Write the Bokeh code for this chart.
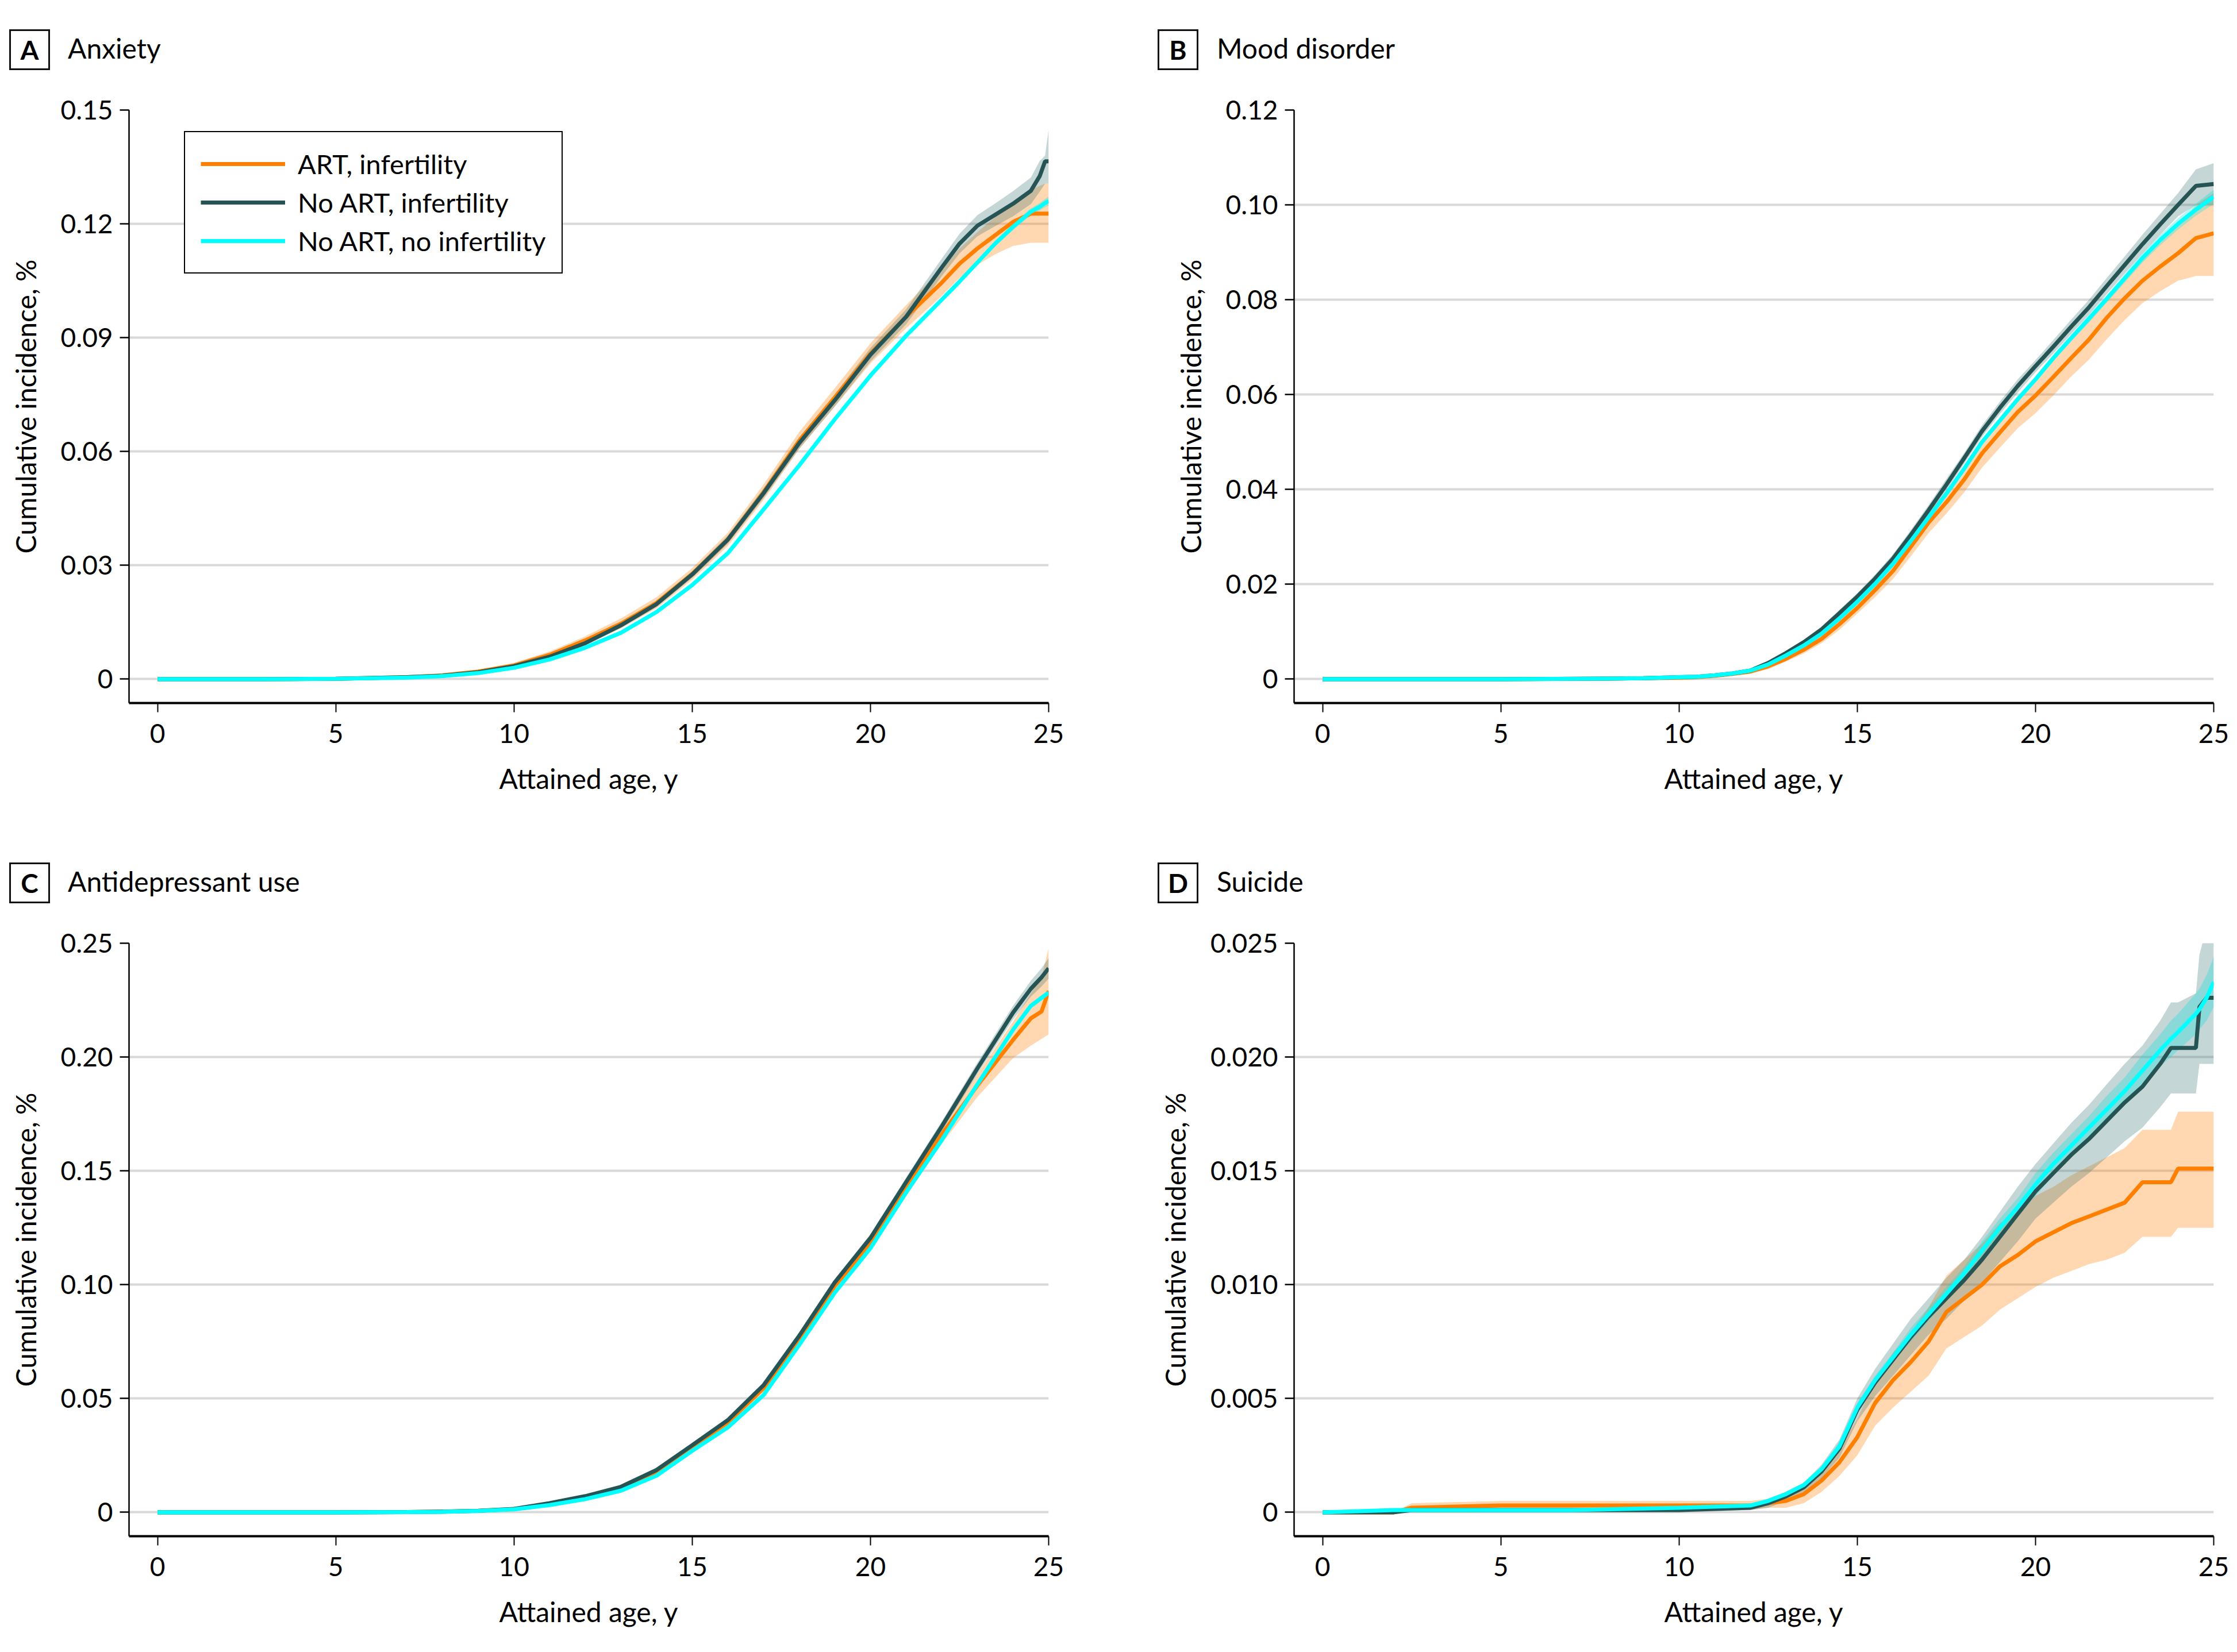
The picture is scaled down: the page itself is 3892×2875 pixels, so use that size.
from bokeh.plotting import figure
from bokeh.models import Range1d, FixedTicker, Legend, LegendItem, Div
from bokeh.layouts import column, row
from bokeh.embed import file_html
from bokeh.resources import INLINE

# ---------------- data ----------------
SERIES = ["ART, infertility", "No ART, infertility", "No ART, no infertility"]
X_TICKS = [0, 5, 10, 15, 20, 25]
PANEL_LETTERS = ["A", "B", "C", "D"]
PANEL_TITLES = ["Anxiety", "Mood disorder", "Antidepressant use", "Suicide"]

# Panel A: Anxiety
AGE_A = [0, 3, 5, 7, 8, 9, 10, 11, 12, 13, 14, 15, 16, 17, 18, 19, 20, 21, 22, 22.5, 23, 23.5, 24, 24.5, 24.75, 24.9, 25]
A_ART = [0, 0, 0.0001, 0.0005, 0.001, 0.002, 0.0036, 0.0064, 0.0102, 0.0146, 0.0201, 0.0277, 0.0368, 0.0492, 0.0628, 0.0742, 0.0858, 0.0955, 0.1045, 0.1095, 0.1135, 0.117, 0.1205, 0.1227, 0.1227, 0.1227, 0.1227]
A_ART_LO = [0, 0, 0.0001, 0.0003, 0.0007, 0.0015, 0.003, 0.0056, 0.0092, 0.0134, 0.0187, 0.0262, 0.0351, 0.0472, 0.0606, 0.0718, 0.0832, 0.0925, 0.101, 0.1057, 0.1092, 0.112, 0.1142, 0.115, 0.115, 0.115, 0.115]
A_ART_HI = [0, 0, 0.0002, 0.0008, 0.0013, 0.0025, 0.0043, 0.0073, 0.0113, 0.016, 0.0216, 0.0293, 0.0386, 0.0513, 0.0651, 0.0767, 0.0885, 0.0986, 0.1082, 0.1135, 0.1178, 0.1218, 0.1258, 0.129, 0.13, 0.1306, 0.1306]
A_INF = [0, 0, 0.0001, 0.0005, 0.0009, 0.0018, 0.0034, 0.0059, 0.0095, 0.0142, 0.0198, 0.0276, 0.0368, 0.049, 0.0622, 0.0735, 0.0855, 0.0955, 0.1085, 0.1148, 0.1195, 0.1224, 0.1253, 0.1287, 0.1326, 0.1365, 0.1365]
A_INF_LO = [0, 0, 0.0001, 0.0004, 0.0007, 0.0015, 0.003, 0.0054, 0.0089, 0.0135, 0.019, 0.0267, 0.0357, 0.0477, 0.0607, 0.0719, 0.0837, 0.0935, 0.1062, 0.1122, 0.1167, 0.1194, 0.122, 0.1252, 0.1285, 0.1306, 0.1306]
A_INF_HI = [0, 0, 0.0002, 0.0006, 0.0011, 0.0021, 0.0038, 0.0064, 0.0101, 0.0149, 0.0206, 0.0285, 0.0379, 0.0503, 0.0637, 0.0751, 0.0873, 0.0975, 0.1108, 0.1174, 0.1223, 0.1254, 0.1286, 0.1322, 0.1366, 0.138, 0.145]
A_NOINF = [0, 0, 0.0001, 0.0004, 0.0008, 0.0016, 0.003, 0.0052, 0.0083, 0.0122, 0.0177, 0.0248, 0.0332, 0.0447, 0.0563, 0.0685, 0.08, 0.0905, 0.1, 0.1048, 0.1098, 0.1148, 0.1192, 0.1232, 0.1245, 0.1255, 0.126]
A_NOINF_LO = [0, 0, 0.0001, 0.0004, 0.0008, 0.0016, 0.0029, 0.0051, 0.0082, 0.0121, 0.0176, 0.0246, 0.033, 0.0445, 0.056, 0.0682, 0.0796, 0.0901, 0.0995, 0.1043, 0.1092, 0.1141, 0.1184, 0.1223, 0.1235, 0.1244, 0.1248]
A_NOINF_HI = [0, 0, 0.0001, 0.0004, 0.0008, 0.0016, 0.0031, 0.0053, 0.0084, 0.0123, 0.0178, 0.025, 0.0334, 0.0449, 0.0566, 0.0688, 0.0804, 0.0909, 0.1005, 0.1053, 0.1104, 0.1155, 0.12, 0.1241, 0.1255, 0.1266, 0.1272]
A_YTICKS = [0, 0.03, 0.06, 0.09, 0.12, 0.15]
A_YLABELS = ["0", "0.03", "0.06", "0.09", "0.12", "0.15"]

# Panel B: Mood disorder
AGE_B = [0, 5, 8, 9, 10, 10.5, 11, 11.5, 12, 12.5, 13, 13.5, 14, 14.5, 15, 15.5, 16, 16.5, 17, 17.5, 18, 18.5, 19, 19.5, 20, 20.5, 21, 21.5, 22, 22.5, 23, 23.5, 24, 24.5, 25]
B_ART = [0, 0, 0.0001, 0.0002, 0.0003, 0.0004, 0.0007, 0.0011, 0.0016, 0.0027, 0.0043, 0.0062, 0.0085, 0.0116, 0.015, 0.0188, 0.0228, 0.0279, 0.033, 0.0373, 0.0421, 0.0476, 0.052, 0.0563, 0.0598, 0.0637, 0.0677, 0.0716, 0.0762, 0.0803, 0.084, 0.087, 0.0898, 0.093, 0.094]
B_ART_LO = [0, 0, 0.0001, 0.0001, 0.0002, 0.0003, 0.0005, 0.0008, 0.0012, 0.0021, 0.0037, 0.0054, 0.0076, 0.0104, 0.0138, 0.0173, 0.0211, 0.0259, 0.0308, 0.0349, 0.0394, 0.0446, 0.0488, 0.0529, 0.0561, 0.0598, 0.0638, 0.0674, 0.0717, 0.0757, 0.0793, 0.0818, 0.084, 0.085, 0.085]
B_ART_HI = [0, 0, 0.0001, 0.0003, 0.0004, 0.0005, 0.0009, 0.0014, 0.002, 0.0033, 0.0049, 0.007, 0.0094, 0.0128, 0.0162, 0.0203, 0.0245, 0.0299, 0.0352, 0.0397, 0.0448, 0.0506, 0.0552, 0.0597, 0.0635, 0.0676, 0.0716, 0.0758, 0.0807, 0.085, 0.0887, 0.092, 0.0955, 0.1, 0.1025]
B_INF = [0, 0, 0.0001, 0.0002, 0.0004, 0.0005, 0.0008, 0.0012, 0.0018, 0.0034, 0.0055, 0.0078, 0.0105, 0.0139, 0.0174, 0.0212, 0.0254, 0.0304, 0.0356, 0.041, 0.0466, 0.0523, 0.0572, 0.0618, 0.066, 0.0701, 0.0743, 0.0784, 0.0829, 0.0873, 0.0917, 0.0959, 0.1, 0.104, 0.1044]
B_INF_LO = [0, 0, 0.0001, 0.0002, 0.0003, 0.0004, 0.0007, 0.0011, 0.0016, 0.0031, 0.0051, 0.0073, 0.0099, 0.0132, 0.0167, 0.0204, 0.0245, 0.0294, 0.0345, 0.0398, 0.0455, 0.0511, 0.0559, 0.0604, 0.0647, 0.0687, 0.0728, 0.0768, 0.0812, 0.0855, 0.0897, 0.0937, 0.0976, 0.1, 0.1]
B_INF_HI = [0, 0, 0.0001, 0.0002, 0.0005, 0.0006, 0.0009, 0.0013, 0.002, 0.0037, 0.0059, 0.0083, 0.0111, 0.0146, 0.0181, 0.022, 0.0263, 0.0314, 0.0367, 0.0422, 0.0477, 0.0535, 0.0585, 0.0632, 0.0673, 0.0715, 0.0758, 0.08, 0.0846, 0.0891, 0.0937, 0.0981, 0.1025, 0.1075, 0.1088]
B_NOINF = [0, 0, 0.0001, 0.0002, 0.0004, 0.0005, 0.0008, 0.0012, 0.0018, 0.0031, 0.005, 0.0071, 0.0096, 0.0128, 0.0163, 0.0201, 0.0243, 0.0291, 0.0341, 0.0391, 0.0444, 0.05, 0.0545, 0.059, 0.0632, 0.0677, 0.0719, 0.076, 0.0802, 0.0845, 0.0888, 0.0926, 0.096, 0.099, 0.1017]
B_NOINF_LO = [0, 0, 0.0001, 0.0002, 0.0004, 0.0005, 0.0008, 0.0012, 0.0017, 0.003, 0.0049, 0.007, 0.0095, 0.0126, 0.0161, 0.0199, 0.024, 0.0288, 0.0338, 0.0387, 0.044, 0.0495, 0.054, 0.0585, 0.0626, 0.067, 0.0712, 0.0752, 0.0794, 0.0836, 0.0878, 0.0915, 0.0948, 0.0977, 0.1002]
B_NOINF_HI = [0, 0, 0.0001, 0.0002, 0.0004, 0.0005, 0.0008, 0.0012, 0.0019, 0.0032, 0.0051, 0.0072, 0.0097, 0.013, 0.0165, 0.0203, 0.0246, 0.0294, 0.0344, 0.0395, 0.0448, 0.0505, 0.055, 0.0595, 0.0638, 0.0684, 0.0726, 0.0768, 0.081, 0.0854, 0.0898, 0.0937, 0.0972, 0.1003, 0.1032]
B_YTICKS = [0, 0.02, 0.04, 0.06, 0.08, 0.10, 0.12]
B_YLABELS = ["0", "0.02", "0.04", "0.06", "0.08", "0.10", "0.12"]

# Panel C: Antidepressant use
AGE_C = [0, 5, 7, 8, 9, 10, 11, 12, 13, 14, 15, 16, 17, 18, 19, 20, 21, 22, 23, 24, 24.5, 24.8, 25]
C_ART = [0, 0, 0.0001, 0.0003, 0.0007, 0.0014, 0.0037, 0.0066, 0.0105, 0.0178, 0.0288, 0.0395, 0.0545, 0.076, 0.0995, 0.118, 0.1425, 0.166, 0.1875, 0.2075, 0.217, 0.22, 0.229]
C_ART_LO = [0, 0, 0.0001, 0.0002, 0.0005, 0.0011, 0.0032, 0.006, 0.0097, 0.0168, 0.0277, 0.0382, 0.0528, 0.074, 0.097, 0.115, 0.1388, 0.1618, 0.1825, 0.1995, 0.205, 0.208, 0.21]
C_ART_HI = [0, 0, 0.0001, 0.0004, 0.0009, 0.0017, 0.0042, 0.0072, 0.0113, 0.0188, 0.0299, 0.0408, 0.0562, 0.078, 0.102, 0.121, 0.1462, 0.1702, 0.1925, 0.2155, 0.228, 0.235, 0.248]
C_INF = [0, 0, 0.0001, 0.0003, 0.0007, 0.0015, 0.004, 0.0071, 0.0112, 0.0186, 0.0295, 0.0405, 0.0558, 0.0775, 0.101, 0.1205, 0.145, 0.1695, 0.195, 0.2195, 0.23, 0.235, 0.239]
C_INF_LO = [0, 0, 0.0001, 0.0002, 0.0006, 0.0013, 0.0037, 0.0067, 0.0107, 0.018, 0.0288, 0.0396, 0.0547, 0.0763, 0.0995, 0.1188, 0.143, 0.1673, 0.1925, 0.2165, 0.2265, 0.231, 0.2345]
C_INF_HI = [0, 0, 0.0001, 0.0004, 0.0008, 0.0017, 0.0043, 0.0075, 0.0117, 0.0192, 0.0302, 0.0414, 0.0569, 0.0787, 0.1025, 0.1222, 0.147, 0.1717, 0.1975, 0.2225, 0.2335, 0.239, 0.2435]
C_NOINF = [0, 0, 0.0001, 0.0002, 0.0006, 0.0013, 0.0032, 0.0058, 0.0095, 0.0161, 0.027, 0.0373, 0.0515, 0.0735, 0.0965, 0.116, 0.1405, 0.1635, 0.188, 0.212, 0.2225, 0.226, 0.2283]
C_NOINF_LO = [0, 0, 0.0001, 0.0002, 0.0006, 0.0013, 0.0031, 0.0057, 0.0094, 0.0159, 0.0267, 0.037, 0.0511, 0.073, 0.0959, 0.1153, 0.1397, 0.1626, 0.187, 0.2109, 0.2213, 0.2248, 0.227]
C_NOINF_HI = [0, 0, 0.0001, 0.0002, 0.0006, 0.0013, 0.0033, 0.0059, 0.0096, 0.0163, 0.0273, 0.0376, 0.0519, 0.074, 0.0971, 0.1167, 0.1413, 0.1644, 0.189, 0.2131, 0.2237, 0.2272, 0.2296]
C_YTICKS = [0, 0.05, 0.10, 0.15, 0.20, 0.25]
C_YLABELS = ["0", "0.05", "0.10", "0.15", "0.20", "0.25"]

# Panel D: Suicide
AGE_D = [0, 2, 2.5, 5, 7, 10, 12, 12.5, 13, 13.5, 14, 14.5, 15, 15.5, 16, 16.5, 17, 17.5, 18, 18.5, 19, 19.5, 20, 20.5, 21, 21.5, 22, 22.5, 23, 23.5, 23.8, 24, 24.5, 24.6, 24.8, 25]
D_ART = [0, 0, 0.0002, 0.0003, 0.0003, 0.0003, 0.0003, 0.0004, 0.0005, 0.0008, 0.0014, 0.0022, 0.0033, 0.0048, 0.0058, 0.0066, 0.0075, 0.0088, 0.0094, 0.01, 0.0108, 0.0113, 0.0119, 0.0123, 0.0127, 0.013, 0.0133, 0.0136, 0.0145, 0.0145, 0.0145, 0.0151, 0.0151, 0.0151, 0.0151, 0.0151]
D_ART_LO = [0, 0, 0, 0.0001, 0.0001, 0.0001, 0.0001, 0.0002, 0.0002, 0.0004, 0.0009, 0.0016, 0.0025, 0.0038, 0.0046, 0.0053, 0.006, 0.0072, 0.0077, 0.0082, 0.0089, 0.0094, 0.0099, 0.0103, 0.0106, 0.0109, 0.0111, 0.0114, 0.0121, 0.0121, 0.0121, 0.0125, 0.0125, 0.0125, 0.0125, 0.0125]
D_ART_HI = [0, 0, 0.0004, 0.0005, 0.0005, 0.0005, 0.0005, 0.0006, 0.0008, 0.0012, 0.0019, 0.0028, 0.0041, 0.0058, 0.007, 0.0079, 0.009, 0.0104, 0.0111, 0.0118, 0.0127, 0.0132, 0.0139, 0.0143, 0.0148, 0.0152, 0.0156, 0.016, 0.0168, 0.0168, 0.0168, 0.0176, 0.0176, 0.0176, 0.0176, 0.0176]
D_INF = [0, 0, 0.0001, 0.0001, 0.0001, 0.0001, 0.0002, 0.0004, 0.0007, 0.0011, 0.0018, 0.0028, 0.0045, 0.0057, 0.0067, 0.0077, 0.0086, 0.0094, 0.0102, 0.0111, 0.0121, 0.0131, 0.0141, 0.0149, 0.0157, 0.0164, 0.0172, 0.018, 0.0187, 0.0197, 0.0204, 0.0204, 0.0204, 0.0222, 0.0226, 0.0226]
D_INF_LO = [0, 0, 0, 0, 0, 0, 0.0001, 0.0002, 0.0005, 0.0009, 0.0015, 0.0024, 0.004, 0.0051, 0.006, 0.0069, 0.0078, 0.0085, 0.0093, 0.0101, 0.011, 0.0119, 0.0129, 0.0136, 0.0143, 0.0149, 0.0156, 0.0163, 0.0169, 0.0178, 0.0184, 0.0184, 0.0184, 0.0197, 0.0197, 0.0197]
D_INF_HI = [0, 0, 0.0002, 0.0002, 0.0002, 0.0002, 0.0003, 0.0006, 0.0009, 0.0013, 0.0021, 0.0032, 0.005, 0.0063, 0.0074, 0.0085, 0.0094, 0.0103, 0.0111, 0.0121, 0.0132, 0.0143, 0.0153, 0.0162, 0.0171, 0.0179, 0.0188, 0.0197, 0.0205, 0.0216, 0.0224, 0.0224, 0.0228, 0.0245, 0.0257, 0.0257]
D_NOINF = [0, 0.0001, 0.0001, 0.0001, 0.0001, 0.0002, 0.0003, 0.0005, 0.0008, 0.0012, 0.0019, 0.0029, 0.0046, 0.0058, 0.0068, 0.0078, 0.0087, 0.0096, 0.0105, 0.0115, 0.0125, 0.0134, 0.0144, 0.0153, 0.0161, 0.0169, 0.0177, 0.0185, 0.0194, 0.0203, 0.0208, 0.0211, 0.0219, 0.0221, 0.0226, 0.0233]
D_NOINF_LO = [0, 0.0001, 0.0001, 0.0001, 0.0001, 0.0002, 0.0003, 0.0004, 0.0007, 0.0011, 0.0018, 0.0027, 0.0044, 0.0056, 0.0066, 0.0075, 0.0084, 0.0093, 0.0102, 0.0111, 0.0121, 0.013, 0.0139, 0.0148, 0.0156, 0.0164, 0.0171, 0.0179, 0.0187, 0.0196, 0.02, 0.0203, 0.021, 0.0212, 0.0216, 0.0222]
D_NOINF_HI = [0, 0.0001, 0.0001, 0.0001, 0.0001, 0.0002, 0.0003, 0.0006, 0.0009, 0.0013, 0.002, 0.0031, 0.0048, 0.006, 0.007, 0.0081, 0.009, 0.0099, 0.0108, 0.0119, 0.0129, 0.0138, 0.0149, 0.0158, 0.0166, 0.0174, 0.0183, 0.0191, 0.0201, 0.021, 0.0216, 0.0219, 0.0228, 0.023, 0.0236, 0.0244]
D_YTICKS = [0, 0.005, 0.010, 0.015, 0.020, 0.025]
D_YLABELS = ["0", "0.005", "0.010", "0.015", "0.020", "0.025"]

# ---------------- style ----------------
FONT = "Lato"
COL_ART, COL_INF, COL_NOINF = "#FF8000", "#265454", "#00FFFF"
BAND_ART, BAND_INF, BAND_NOINF = "#FF7F00", "#2D6A6A", "#00E0E0"
LEFT_W, RIGHT_W = 2008, 1884


def header(letter, title, width, height, box_left, text_left):
    html = (
        f'<div style="position:relative;box-sizing:border-box;width:{width}px;height:{height}px;'
        f'margin:0;padding:0;font-family:{FONT},sans-serif;color:#000;">'
        f'<div style="position:absolute;box-sizing:border-box;left:{box_left}px;top:51px;'
        f'width:71px;height:71px;border:3px solid #111;font-weight:bold;font-size:46px;'
        f'line-height:65px;text-align:center;">{letter}</div>'
        f'<div style="position:absolute;left:{text_left}px;top:60px;font-size:48px;'
        f'line-height:48px;white-space:nowrap;">{title}</div>'
        f'</div>'
    )
    return Div(text=html, width=width, height=height, styles={"margin": "0", "padding": "0"})


def panel(ages, art, inf, noinf, ymax, yticks, ylabels, width, height, borders, legend=False):
    bl, br, bt, bb = borders
    p = figure(width=width, height=height, output_backend="svg", toolbar_location=None,
               x_range=Range1d(-0.8, 25), y_range=Range1d(-0.042 * ymax, ymax),
               min_border_left=bl, min_border_right=br, min_border_top=bt, min_border_bottom=bb,
               background_fill_color="white", border_fill_color="white")
    p.outline_line_color = None
    p.xgrid.visible = False
    p.ygrid.grid_line_color = "#D9D9D9"
    p.ygrid.grid_line_width = 4

    p.xaxis.ticker = FixedTicker(ticks=X_TICKS)
    p.yaxis.ticker = FixedTicker(ticks=yticks)
    p.yaxis.major_label_overrides = {t: s for t, s in zip(yticks, ylabels)}
    for ax in (p.xaxis[0], p.yaxis[0]):
        ax.axis_line_color = "black"
        ax.major_tick_line_color = "black"
        ax.major_tick_in = 0
        ax.major_tick_out = 16
        ax.minor_tick_line_color = None
        ax.major_label_text_font = FONT
        ax.major_label_text_font_size = "46px"
        ax.major_label_text_color = "black"
        ax.axis_label_text_font = FONT
        ax.axis_label_text_font_size = "48px"
        ax.axis_label_text_font_style = "normal"
        ax.axis_label_text_color = "black"
    p.xaxis.axis_line_width = 4
    p.xaxis.major_tick_line_width = 2
    p.yaxis.axis_line_width = 2.5
    p.yaxis.major_tick_line_width = 2.5
    p.xaxis.axis_label = "Attained age, y"
    p.yaxis.axis_label = "Cumulative incidence, %"
    p.xaxis.major_label_standoff = 20
    p.xaxis.axis_label_standoff = 30
    p.yaxis.major_label_standoff = 12
    p.yaxis.axis_label_standoff = 30

    (a, alo, ahi), (i, ilo, ihi), (n, nlo, nhi) = art, inf, noinf
    p.varea(x=ages, y1=alo, y2=ahi, fill_color=BAND_ART, fill_alpha=0.3)
    p.varea(x=ages, y1=ilo, y2=ihi, fill_color=BAND_INF, fill_alpha=0.28)
    p.varea(x=ages, y1=nlo, y2=nhi, fill_color=BAND_NOINF, fill_alpha=0.3)
    r1 = p.line(x=ages, y=a, line_color=COL_ART, line_width=7)
    r2 = p.line(x=ages, y=i, line_color=COL_INF, line_width=7)
    r3 = p.line(x=ages, y=n, line_color=COL_NOINF, line_width=7)

    if legend:
        leg = Legend(items=[LegendItem(label=SERIES[0], renderers=[r1]),
                            LegendItem(label=SERIES[1], renderers=[r2]),
                            LegendItem(label=SERIES[2], renderers=[r3])],
                     location=(96, 747))
        leg.border_line_color = "black"
        leg.border_line_width = 2.5
        leg.border_line_alpha = 1
        leg.background_fill_alpha = 1
        leg.label_text_font = FONT
        leg.label_text_font_size = "47px"
        leg.label_text_color = "black"
        leg.glyph_width = 147
        leg.glyph_height = 50
        leg.label_height = 50
        leg.label_standoff = 22
        leg.spacing = 11
        leg.padding = 27
        leg.margin = 0
        p.add_layout(leg)
    return p


hA = header(PANEL_LETTERS[0], PANEL_TITLES[0], LEFT_W, 158, 16, 118)
hB = header(PANEL_LETTERS[1], PANEL_TITLES[1], RIGHT_W, 158, 6, 109)
hC = header(PANEL_LETTERS[2], PANEL_TITLES[2], LEFT_W, 150, 16, 118)
hD = header(PANEL_LETTERS[3], PANEL_TITLES[3], RIGHT_W, 150, 6, 109)

pA = panel(AGE_A, (A_ART, A_ART_LO, A_ART_HI), (A_INF, A_INF_LO, A_INF_HI), (A_NOINF, A_NOINF_LO, A_NOINF_HI),
           0.15, A_YTICKS, A_YLABELS, LEFT_W, 1292, (224, 184, 33, 227), legend=True)
pB = panel(AGE_B, (B_ART, B_ART_LO, B_ART_HI), (B_INF, B_INF_LO, B_INF_HI), (B_NOINF, B_NOINF_LO, B_NOINF_HI),
           0.12, B_YTICKS, B_YLABELS, RIGHT_W, 1292, (243, 41, 33, 227))
pC = panel(AGE_C, (C_ART, C_ART_LO, C_ART_HI), (C_INF, C_INF_LO, C_INF_HI), (C_NOINF, C_NOINF_LO, C_NOINF_HI),
           0.25, C_YTICKS, C_YLABELS, LEFT_W, 1270, (224, 184, 41, 197))
pD = panel(AGE_D, (D_ART, D_ART_LO, D_ART_HI), (D_INF, D_INF_LO, D_INF_HI), (D_NOINF, D_NOINF_LO, D_NOINF_HI),
           0.025, D_YTICKS, D_YLABELS, RIGHT_W, 1270, (243, 41, 41, 197))

layout = column(row(column(hA, pA), column(hB, pB)),
                row(column(hC, pC), column(hD, pD)))
open("out.html", "w").write(file_html(layout, INLINE))
